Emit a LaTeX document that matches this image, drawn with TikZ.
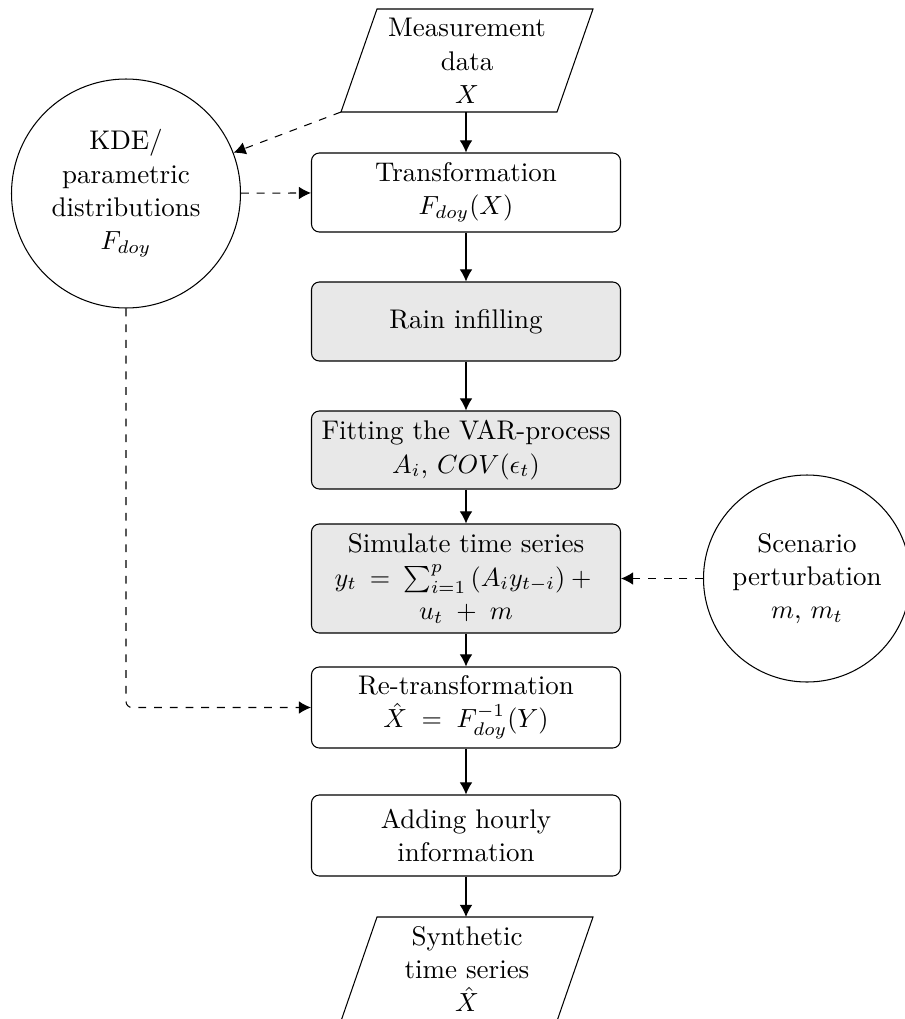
\documentclass[tikz,border=0pt]{standalone}
\usetikzlibrary{arrows.meta}
\newlength\px
\setlength\px{0.3817pt}
\begin{document}
\begin{tikzpicture}[x=0.3817pt, y=-0.3817pt,
  every node/.style={font=\fontsize{10.3pt}{12.7pt}\selectfont},
  box/.style={draw, rounded corners=3pt, minimum width=309\px, align=center, inner xsep=2pt, inner ysep=2pt},
  proc/.style={box, fill=black!9},
  txt/.style={align=center, inner sep=0pt},
  circ/.style={draw, circle, align=center, inner sep=0pt},
  arr/.style={-{Latex[length=4.6pt,width=4.8pt]}},
  darr/.style={arr, dashed}]
\useasboundingbox (0,0) rectangle (904,1019);

% input parallelogram
\coordinate (dataTL) at (377,9);
\coordinate (dataTR) at (593,9);
\coordinate (dataBR) at (557,112);
\coordinate (dataBL) at (341,112);
\coordinate (dataB) at (466,112);
\draw (dataBL) -- (dataBR) -- (dataTR) -- (dataTL) -- cycle;
\node[txt] (data) at (467,61) {Measurement\\data\\$X$};

% process boxes
\node[box, minimum height=79\px] (trans) at (466,192.5) {Transformation\\$F_{doy}(X)$};
\node[proc, minimum height=79\px] (rain) at (466,321.5) {Rain infilling};
\node[proc, minimum height=78\px] (fit) at (466,450) {Fitting the VAR-process\\$A_i$, $COV(\epsilon_t)$};
\node[proc, minimum height=109\px] (sim) at (466,578.5) {Simulate time series\\$y_t \:=\: \sum_{i=1}^{p}\,(A_iy_{t-i}) +{}$\\$u_t \;+\; m$};
\node[box, minimum height=81\px] (retrans) at (466,707.5) {Re-transformation\\$\hat{X} \;=\; F_{doy}^{-1}(Y)$};
\node[box, minimum height=81\px] (add) at (466,835.5) {Adding hourly\\information};

% output parallelogram
\coordinate (synTL) at (377,917);
\coordinate (synTR) at (593,917);
\coordinate (synBR) at (557,1021);
\coordinate (synBL) at (341,1021);
\coordinate (synT) at (466,917);
\draw (synBL) -- (synBR) -- (synTR) -- (synTL) -- cycle;
\node[txt] (synth) at (467,969) {Synthetic\\time series\\$\hat{X}$};

% side circles
\node[circ, minimum size=229\px] (kde) at (126,193.5) {KDE/\\parametric\\distributions\\$F_{doy}$};
\node[circ, minimum size=207\px] (scen) at (807,578.5) {Scenario\\perturbation\\$m$, $m_t$};

% main flow
\draw[arr] (dataB) -- (trans);
\draw[arr] (trans) -- (rain);
\draw[arr] (rain) -- (fit);
\draw[arr] (fit) -- (sim);
\draw[arr] (sim) -- (retrans);
\draw[arr] (retrans) -- (add);
\draw[arr] (add) -- (synT);

% dashed side flows
\draw[darr] (dataBL) -- (kde);
\draw[darr] (kde) -- (trans);
\draw[darr, rounded corners=2.3pt] (kde.south) |- (retrans.west);
\draw[darr] (scen) -- (sim);
\end{tikzpicture}
\end{document}
